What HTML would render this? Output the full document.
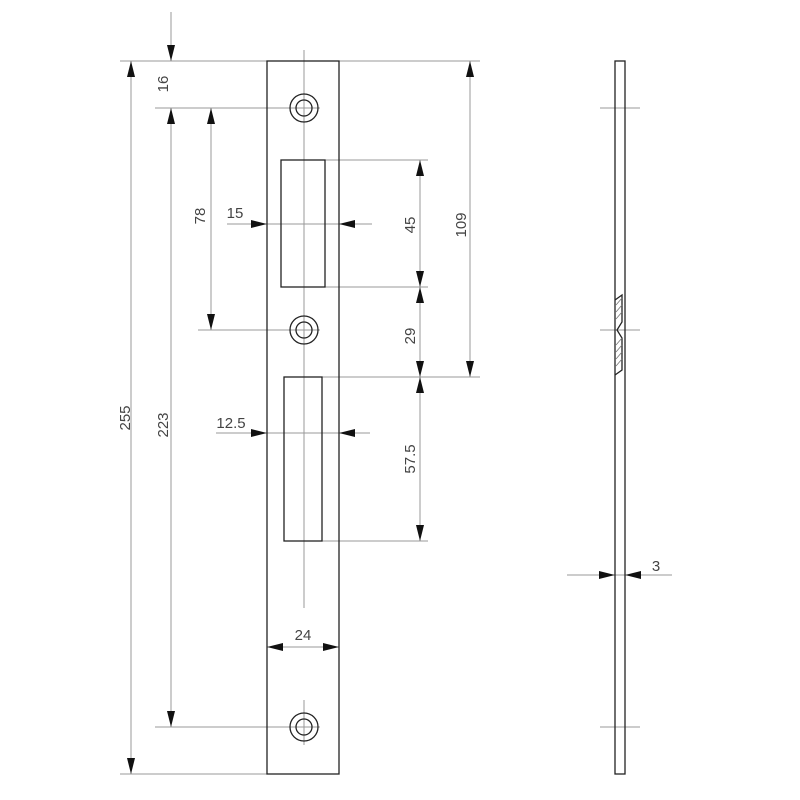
<!DOCTYPE html>
<html><head><style>body{margin:0;background:#fff}svg{display:block}text{font-family:"Liberation Sans",sans-serif;font-size:15px;fill:#444}</style></head>
<body>
<svg width="800" height="800" viewBox="0 0 800 800">
<defs>
<marker id="a" viewBox="0 0 16 8" refX="16" refY="4" markerWidth="16" markerHeight="8" markerUnits="userSpaceOnUse" orient="auto"><path d="M0,0L16,4L0,8z" fill="#111"/></marker>
</defs>
<g stroke="#999" stroke-width="1" fill="none">
<line x1="120" y1="61" x2="480" y2="61"/>
<line x1="155" y1="108" x2="320" y2="108"/>
<line x1="325" y1="160" x2="428" y2="160"/>
<line x1="325" y1="287" x2="428" y2="287"/>
<line x1="198" y1="330" x2="320" y2="330"/>
<line x1="321" y1="377" x2="480" y2="377"/>
<line x1="321" y1="541" x2="428" y2="541"/>
<line x1="155" y1="727" x2="320" y2="727"/>
<line x1="120" y1="774" x2="339" y2="774"/>
<line x1="304" y1="50" x2="304" y2="608"/>
<line x1="304" y1="700" x2="304" y2="745"/>
<line x1="600" y1="108" x2="640" y2="108"/>
<line x1="600" y1="330" x2="640" y2="330"/>
<line x1="600" y1="727" x2="640" y2="727"/>
<line x1="227" y1="224" x2="372" y2="224"/>
<line x1="216" y1="433" x2="370" y2="433"/>
<line x1="567" y1="575" x2="672" y2="575"/>
</g>
<g stroke="#999" stroke-width="1" fill="none">
<line x1="131" y1="418" x2="131" y2="61" marker-end="url(#a)"/>
<line x1="131" y1="418" x2="131" y2="774" marker-end="url(#a)"/>
<line x1="171" y1="418" x2="171" y2="108" marker-end="url(#a)"/>
<line x1="171" y1="418" x2="171" y2="727" marker-end="url(#a)"/>
<line x1="171" y1="12" x2="171" y2="61" marker-end="url(#a)"/>
<line x1="211" y1="220" x2="211" y2="108" marker-end="url(#a)"/>
<line x1="211" y1="220" x2="211" y2="330" marker-end="url(#a)"/>
<line x1="420" y1="224" x2="420" y2="160" marker-end="url(#a)"/>
<line x1="420" y1="224" x2="420" y2="287" marker-end="url(#a)"/>
<line x1="420" y1="332" x2="420" y2="287" marker-end="url(#a)"/>
<line x1="420" y1="332" x2="420" y2="377" marker-end="url(#a)"/>
<line x1="420" y1="460" x2="420" y2="377" marker-end="url(#a)"/>
<line x1="420" y1="460" x2="420" y2="541" marker-end="url(#a)"/>
<line x1="470" y1="220" x2="470" y2="61" marker-end="url(#a)"/>
<line x1="470" y1="220" x2="470" y2="377" marker-end="url(#a)"/>
<line x1="240" y1="224" x2="267" y2="224" marker-end="url(#a)"/>
<line x1="365" y1="224" x2="339" y2="224" marker-end="url(#a)"/>
<line x1="240" y1="433" x2="267" y2="433" marker-end="url(#a)"/>
<line x1="365" y1="433" x2="339" y2="433" marker-end="url(#a)"/>
<line x1="303" y1="647" x2="267" y2="647" marker-end="url(#a)"/>
<line x1="303" y1="647" x2="339" y2="647" marker-end="url(#a)"/>
<line x1="590" y1="575" x2="615" y2="575" marker-end="url(#a)"/>
<line x1="650" y1="575" x2="625" y2="575" marker-end="url(#a)"/>
</g>
<g stroke="#222" stroke-width="1.3" fill="none">
<rect x="267" y="61" width="72" height="713"/>
<rect x="281" y="160" width="44" height="127"/>
<rect x="284" y="377" width="38" height="164"/>
<circle cx="304" cy="108" r="14"/><circle cx="304" cy="108" r="8"/>
<circle cx="304" cy="330" r="14"/><circle cx="304" cy="330" r="8"/>
<circle cx="304" cy="727" r="14"/><circle cx="304" cy="727" r="8"/>
<rect x="615" y="61" width="10" height="713"/>
<path d="M615,300 L622,295 L622,322 L617,330 L622,338 L622,370 L615,375"/>
</g>
<g stroke="#777" stroke-width="0.8">
<line x1="616" y1="305" x2="622" y2="298"/><line x1="616" y1="312" x2="622" y2="305"/><line x1="616" y1="319" x2="622" y2="312"/>
<line x1="616" y1="345" x2="622" y2="338"/><line x1="616" y1="352" x2="622" y2="345"/><line x1="616" y1="359" x2="622" y2="352"/><line x1="616" y1="366" x2="622" y2="359"/>
</g>
<text transform="translate(130,418) rotate(-90)" text-anchor="middle">255</text>
<text transform="translate(168,425) rotate(-90)" text-anchor="middle">223</text>
<text transform="translate(168,84) rotate(-90)" text-anchor="middle">16</text>
<text transform="translate(205,216) rotate(-90)" text-anchor="middle">78</text>
<text transform="translate(415,225) rotate(-90)" text-anchor="middle">45</text>
<text transform="translate(466,225) rotate(-90)" text-anchor="middle">109</text>
<text transform="translate(415,336) rotate(-90)" text-anchor="middle">29</text>
<text transform="translate(415,459) rotate(-90)" text-anchor="middle">57.5</text>
<text x="235" y="218" text-anchor="middle">15</text>
<text x="231" y="428" text-anchor="middle">12.5</text>
<text x="303" y="640" text-anchor="middle">24</text>
<text x="656" y="571" text-anchor="middle">3</text>
</svg>
</body></html>
